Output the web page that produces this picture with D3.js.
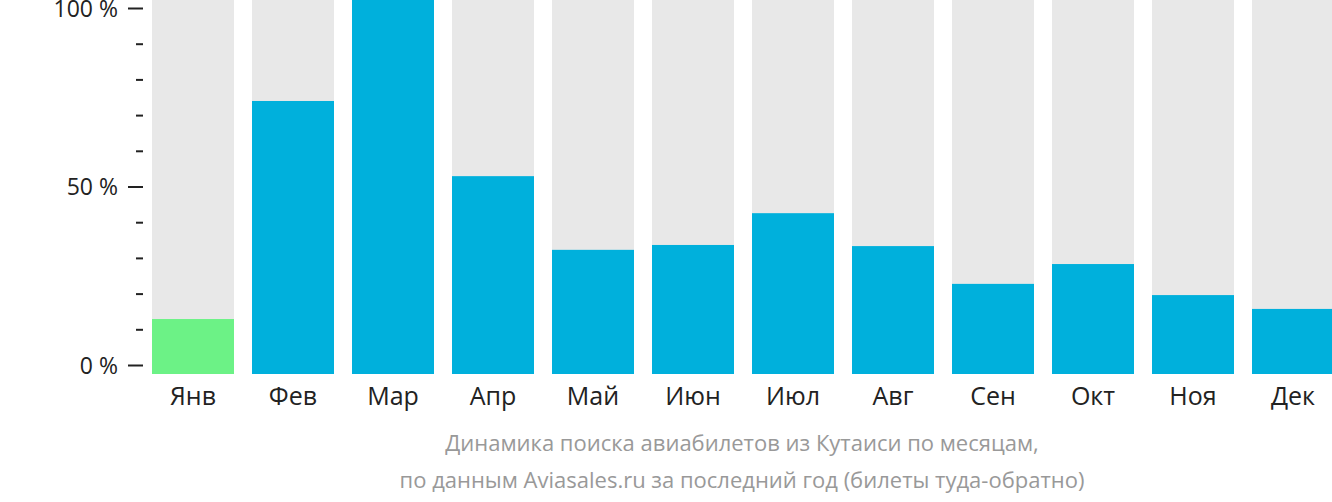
<!DOCTYPE html><html><head><meta charset="utf-8"><script src="https://cdn.jsdelivr.net/npm/d3@7"></script>
<style>body{margin:0;background:#fff}text{font-family:"Open Sans",sans-serif}</style></head><body>
<svg id="c" width="1332" height="502"></svg>
<script>
const months=["Янв","Фев","Мар","Апр","Май","Июн","Июл","Авг","Сен","Окт","Ноя","Дек"];
const values=[14.7,73,100,52.9,33.2,34.5,43,34.2,24.1,29.4,21.1,17.4];
const tickLabels=["0 %","50 %","100 %"];
const caption=["Динамика поиска авиабилетов из Кутаиси по месяцам,","по данным Aviasales.ru за последний год (билеты туда-обратно)"];
const svg=d3.select("#c");
const x=d3.scaleBand().domain(months).range([152,1334]).paddingInner(0.18).paddingOuter(0).align(0);
const yb=d3.scaleLinear().domain([0,100]).range([374,0]);
const ya=d3.scaleLinear().domain([0,100]).range([365.5,8.5]);
svg.selectAll(".bg").data(months).join("rect").attr("x",d=>x(d)).attr("width",x.bandwidth()).attr("y",0).attr("height",374).attr("fill","#e8e8e8");
svg.selectAll(".v").data(values).join("rect").attr("x",(d,i)=>x(months[i])).attr("width",x.bandwidth()).attr("y",d=>yb(d)).attr("height",d=>374-yb(d)).attr("fill",(d,i)=>i==0?"#6cf286":"#00b0dc");
const g=svg.append("g");
d3.range(0,101,10).forEach(v=>{const major=v%50==0;g.append("line").attr("x1",major?128:136).attr("x2",143).attr("y1",ya(v)).attr("y2",ya(v)).attr("stroke","#222").attr("stroke-width",2);});
[0,50,100].forEach((v,i)=>g.append("text").attr("x",118).attr("y",ya(v)).attr("dy","0.35em").attr("text-anchor","end").attr("font-size",23).attr("fill","#222").text(tickLabels[i]));
svg.selectAll(".m").data(months).join("text").attr("x",d=>x(d)+x.bandwidth()/2).attr("y",405).attr("text-anchor","middle").attr("font-size",25).attr("fill","#222").text(d=>d);
caption.forEach((t,i)=>svg.append("text").attr("x",742).attr("y",451+i*37).attr("text-anchor","middle").attr("font-size",22).attr("fill","#999").text(t));
</script></body></html>
